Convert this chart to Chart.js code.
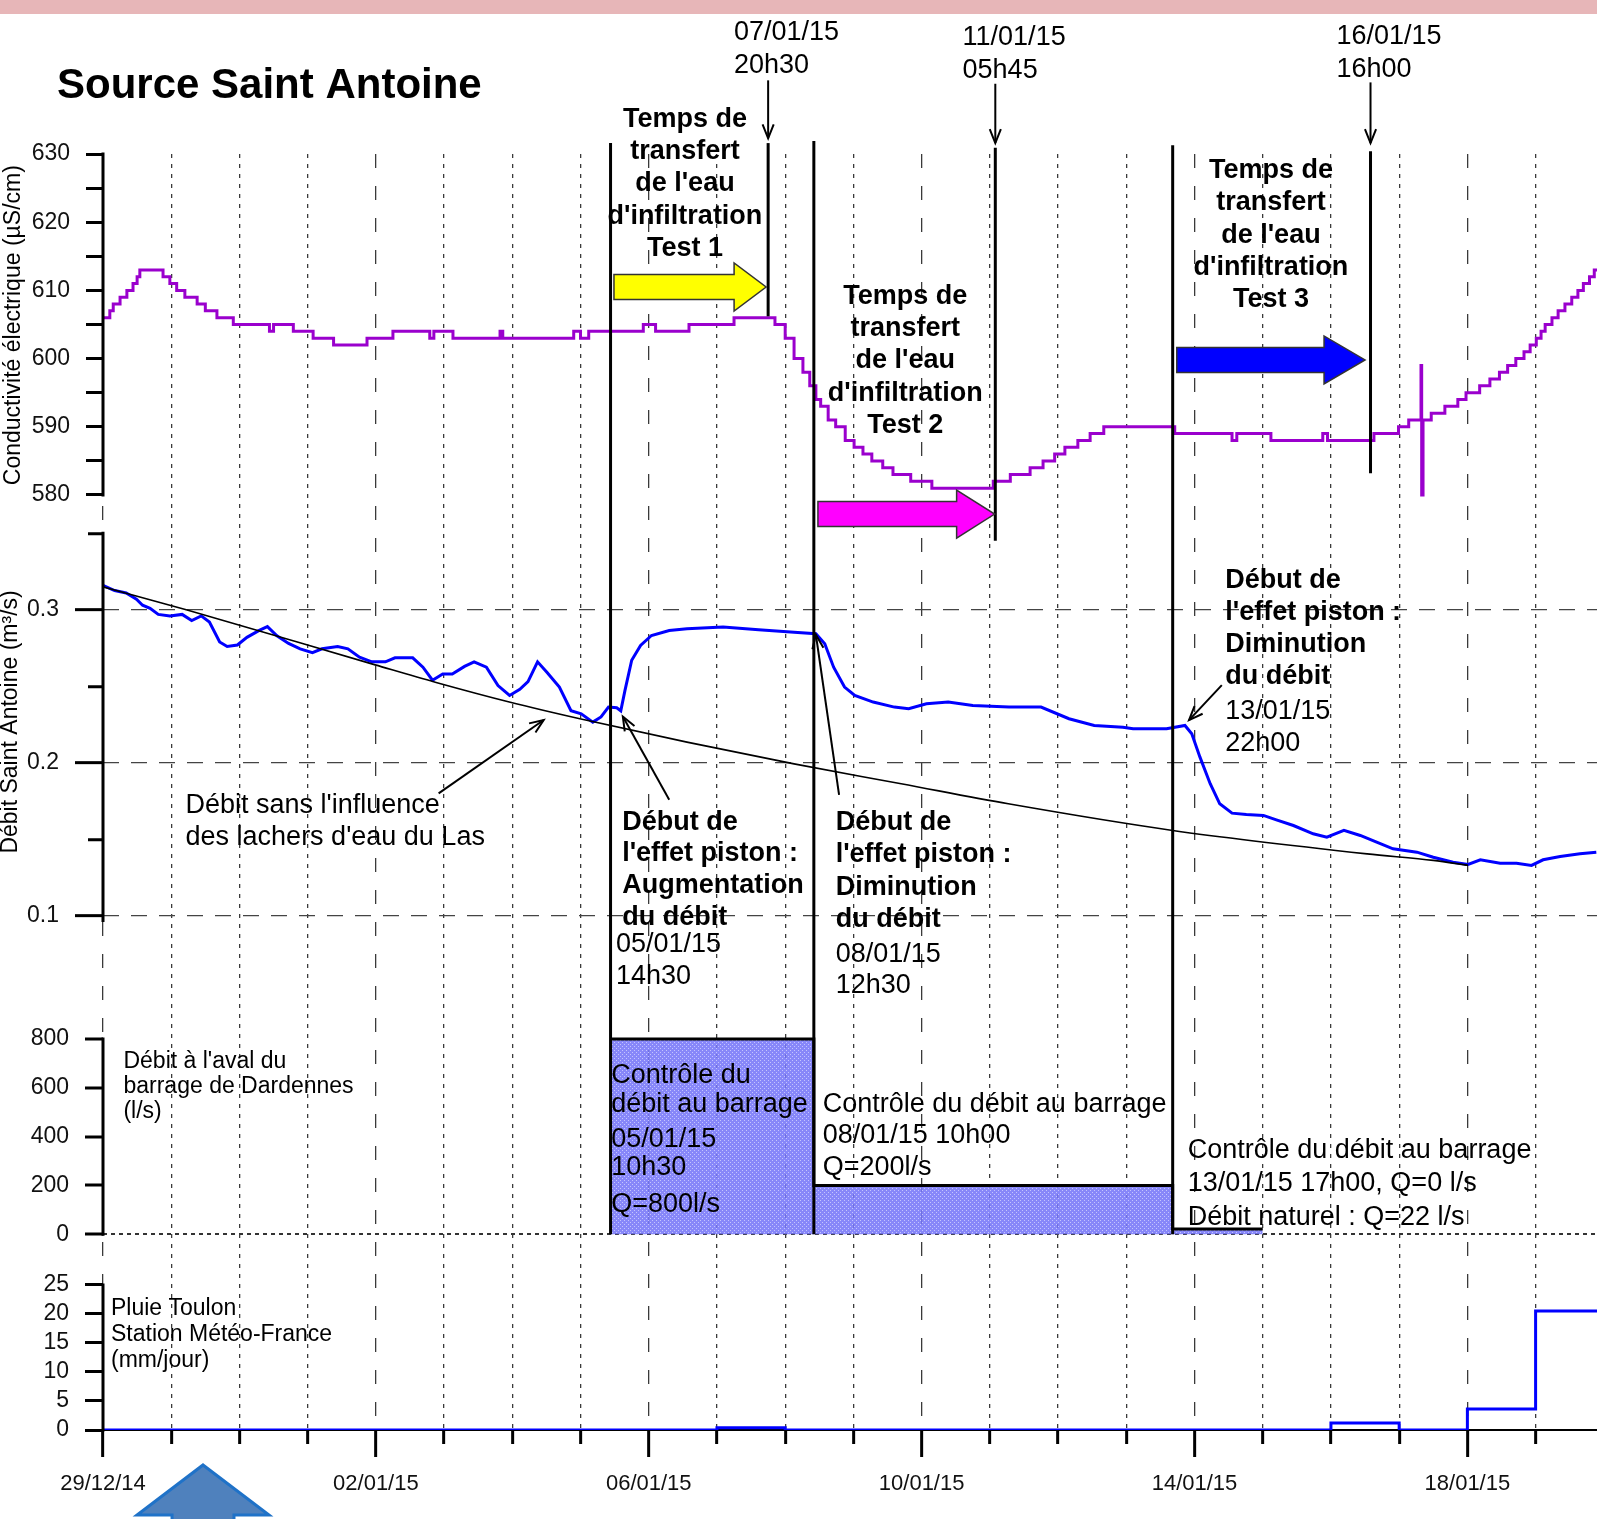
<!DOCTYPE html>
<html>
<head>
<meta charset="utf-8">
<script src="https://cdn.jsdelivr.net/npm/chart.js@4.4.0/dist/chart.umd.min.js"></script>
<style>
  html, body { margin: 0; padding: 0; background: #fff; overflow: hidden; }
  canvas { display: block; }
</style>
</head>
<body>
<canvas id="chartSource" width="1597" height="1519"></canvas>
<script>
// x = days since 29/12/14 00h00
const dateLabels = ["29/12/14", "02/01/15", "06/01/15", "10/01/15", "14/01/15", "18/01/15"];
const dayTicks = [0, 1, 2, 3, 4, 5, 6, 7, 8, 9, 10, 11, 12, 13, 14, 15, 16, 17, 18, 19, 20, 21];

// conductivity (µS/cm), step readings
const condDays = [0.0, 0.10, 0.15, 0.25, 0.35, 0.44, 0.50, 0.54, 0.88, 0.98, 1.08, 1.20, 1.38, 1.50, 1.67, 1.91,
  2.44, 2.50, 2.79, 3.08, 3.38, 3.87, 4.25, 4.79, 4.85, 5.13, 5.82, 5.86, 6.90, 7.00, 7.12, 7.92, 8.10, 8.59, 9.25, 9.85, 10.00, 10.13, 10.26, 10.36, 10.45, 10.52,
  10.63, 10.74, 10.88, 11.01, 11.14, 11.27, 11.43, 11.58, 11.84, 12.15, 13.05, 13.30, 13.59, 13.78, 13.95, 14.10,
  14.29, 14.47, 14.67, 15.71, 16.55, 16.62, 17.12, 17.88, 17.95, 18.63, 18.99, 19.14, 19.32, 19.33, 19.35, 19.47, 19.67, 19.86, 19.98, 20.18,
  20.33, 20.47, 20.59, 20.71, 20.83, 20.92, 21.01, 21.08, 21.14, 21.24, 21.33, 21.43, 21.53, 21.62, 21.70, 21.79,
  21.86, 21.9];
const condValues = [606, 607, 608, 609, 610, 611, 612, 613, 612, 611, 610, 609, 608, 607, 606, 605,
  604, 605, 604, 603, 602, 603, 604, 603, 604, 603, 604, 603, 604, 603, 604, 605, 604, 605, 606, 605, 603, 600, 598, 596, 594, 593,
  591, 590, 588, 587, 586, 585, 584, 583, 582, 581, 582, 583, 584, 585, 586, 587,
  588, 589, 590, 589, 588, 589, 588, 589, 588, 589, 590, 591, 599, 580, 591, 592, 593, 594, 595, 596,
  597, 598, 599, 600, 601, 602, 603, 604, 605, 606, 607, 608, 609, 610, 611, 612,
  613, 613];

// discharge Saint Antoine (m3/s)
const debitDays = [0.0, 0.17, 0.34, 0.49, 0.58, 0.69, 0.81, 0.98, 1.16, 1.30, 1.44, 1.56, 1.71, 1.82, 1.97, 2.11, 2.29, 2.41, 2.55, 2.72,
  2.89, 3.07, 3.21, 3.44, 3.59, 3.76, 3.94, 4.14, 4.28, 4.54, 4.69, 4.83, 4.98, 5.12, 5.30, 5.44, 5.62, 5.79, 5.96, 6.11,
  6.23, 6.37, 6.51, 6.69, 6.86, 7.01, 7.18, 7.30, 7.41, 7.53, 7.59, 7.65, 7.75, 7.88, 8.04, 8.30, 8.56, 9.09, 9.61, 10.13,
  10.45, 10.58, 10.71, 10.87, 11.02, 11.29, 11.60, 11.81, 12.07, 12.39, 12.75, 13.28, 13.75, 14.16, 14.53, 14.95, 15.10, 15.59, 15.86, 15.96,
  16.08, 16.23, 16.37, 16.55, 16.76, 17.01, 17.20, 17.45, 17.74, 17.94, 18.19, 18.43, 18.67, 18.91, 19.26, 19.50, 19.79, 20.01, 20.19, 20.48,
  20.72, 20.94, 21.11, 21.36, 21.65, 21.89];
const debitValues = [0.316, 0.3126, 0.311, 0.307, 0.303, 0.301, 0.297, 0.296, 0.297, 0.293, 0.296, 0.292, 0.279, 0.276, 0.277, 0.282, 0.2865, 0.289, 0.283, 0.278,
  0.2745, 0.272, 0.2745, 0.276, 0.2745, 0.269, 0.266, 0.266, 0.2686, 0.2686, 0.2625, 0.254, 0.258, 0.258, 0.263, 0.266, 0.2625, 0.2505, 0.244, 0.248,
  0.253, 0.266, 0.259, 0.2495, 0.234, 0.232, 0.2266, 0.23, 0.2364, 0.236, 0.234, 0.247, 0.267, 0.2767, 0.2832, 0.2865, 0.2876, 0.2887, 0.287, 0.2854,
  0.2843, 0.2778, 0.2625, 0.2495, 0.244, 0.2397, 0.2364, 0.2353, 0.2386, 0.2397, 0.2375, 0.2364, 0.2364, 0.2288, 0.2244, 0.2233, 0.2222, 0.2222, 0.2244, 0.219,
  0.2037, 0.1863, 0.1732, 0.1671, 0.1662, 0.1656, 0.1627, 0.159, 0.1536, 0.1514, 0.1558, 0.1525, 0.1482, 0.1438, 0.1416, 0.1383, 0.135, 0.1336, 0.1366, 0.1344,
  0.1344, 0.1329, 0.1366, 0.1388, 0.1405, 0.1416];

// discharge without the Las releases
const baseDays = [0, 1.22, 3.99, 4.87, 5.97, 6.99, 8.56, 10.13, 11.70, 13.27, 15.68, 18.53, 19.50, 20.01];
const baseValues = [0.315, 0.300, 0.264, 0.2527, 0.2396, 0.2288, 0.2135, 0.1993, 0.1863, 0.1732, 0.1558, 0.1405, 0.1362, 0.133];

// Dardennes dam release (l/s)
const barrageDays = [7.44, 10.42, 15.68, 17.0];
const barrageValues = [800, 200, 22, 22];

// rain Toulon (mm/day)
const rainDays = [0, 1, 2, 3, 4, 5, 6, 7, 8, 9, 10, 11, 12, 13, 14, 15, 16, 17, 18, 19, 20, 21, 21.9];
const rainValues = [0, 0, 0, 0, 0, 0, 0, 0, 0, 0.4, 0, 0, 0, 0, 0, 0, 0, 0, 1.2, 0, 3.6, 20.5, 20.5];

const condTicks = [580, 585, 590, 595, 600, 605, 610, 615, 620, 625, 630];
const debitTicks = [0.1, 0.15, 0.2, 0.25, 0.3, 0.35];
const barrageTicks = [0, 200, 400, 600, 800];
const rainTicks = [0, 5, 10, 15, 20, 25];

const FONT = "'Liberation Sans', Arial, sans-serif";
Chart.defaults.font.family = FONT;

const pts = (xs, ys) => xs.map((d, i) => ({ x: d, y: ys[i] }));
const isTenth = v => Math.abs(v * 10 - Math.round(v * 10)) < 1e-6;

function dotPattern() {
  const c = document.createElement("canvas");
  c.width = 4; c.height = 4;
  const g = c.getContext("2d");
  g.fillStyle = "rgba(118,118,248,0.88)";
  g.fillRect(0, 0, 4, 4);
  g.fillStyle = "rgba(200,200,255,0.95)";
  g.fillRect(0, 0, 1, 1);
  g.fillRect(2, 2, 1, 1);
  return g.createPattern(c, "repeat");
}

function textLines(ctx, arr, x, y, step, font, align) {
  ctx.font = font;
  ctx.textAlign = align || "left";
  ctx.textBaseline = "alphabetic";
  arr.forEach((s, i) => ctx.fillText(s, x, y + i * step));
}

function pointer(ctx, x0, y0, x1, y1) {
  ctx.strokeStyle = "#000";
  ctx.lineWidth = 2;
  ctx.beginPath(); ctx.moveTo(x0, y0); ctx.lineTo(x1, y1); ctx.stroke();
  const a = Math.atan2(y1 - y0, x1 - x0), L = 15, w = 0.38;
  ctx.beginPath();
  ctx.moveTo(x1 - L * Math.cos(a - w), y1 - L * Math.sin(a - w));
  ctx.lineTo(x1, y1);
  ctx.lineTo(x1 - L * Math.cos(a + w), y1 - L * Math.sin(a + w));
  ctx.stroke();
}

function blockArrow(ctx, x0, x1, yc, headLen, fill) {
  const bh = 12.5, hh = 24;
  ctx.beginPath();
  ctx.moveTo(x0, yc - bh);
  ctx.lineTo(x1 - headLen, yc - bh);
  ctx.lineTo(x1 - headLen, yc - hh);
  ctx.lineTo(x1, yc);
  ctx.lineTo(x1 - headLen, yc + hh);
  ctx.lineTo(x1 - headLen, yc + bh);
  ctx.lineTo(x0, yc + bh);
  ctx.closePath();
  ctx.fillStyle = fill;
  ctx.fill();
  ctx.strokeStyle = "#333";
  ctx.lineWidth = 1.5;
  ctx.stroke();
}

const annotations = {
  id: "annotations",
  beforeDraw(chart) {
    const ctx = chart.ctx;
    ctx.save();
    ctx.fillStyle = "#fff";
    ctx.fillRect(0, 0, chart.width, chart.height);
    ctx.fillStyle = "#e7b6b8";
    ctx.fillRect(0, 0, chart.width, 14);
    ctx.restore();
  },
  afterDraw(chart) {
    const ctx = chart.ctx;
    const X = d => chart.scales.x.getPixelForValue(d);
    const Y = (id, v) => chart.scales[id].getPixelForValue(v);
    const left = chart.chartArea.left;
    ctx.save();

    // y axis lines
    ctx.strokeStyle = "#000";
    ctx.lineWidth = 3;
    [["yC", 630, 580], ["yD", 0.35, 0.097], ["yB", 800, 0], ["yR", 25, 0]].forEach(([id, a, b]) => {
      ctx.beginPath(); ctx.moveTo(left, Y(id, a) - 1.5); ctx.lineTo(left, Y(id, b) + 1.5); ctx.stroke();
    });

    // title
    ctx.fillStyle = "#000";
    textLines(ctx, ["Source Saint Antoine"], 57, 98, 0, "bold 42px " + FONT);

    // rotated axis titles
    ctx.font = "23px " + FONT;
    ctx.textAlign = "center";
    [["Conductivité électrique (µS/cm)", 20, Y("yC", 604.9)], ["Débit Saint Antoine (m³/s)", 17, Y("yD", 0.2267)]].forEach(([s, bx, cy]) => {
      ctx.save(); ctx.translate(bx, cy); ctx.rotate(-Math.PI / 2); ctx.fillText(s, 0, 0); ctx.restore();
    });

    // black vertical markers
    ctx.strokeStyle = "#000";
    ctx.lineWidth = 3;
    [[7.44, Y("yC", 631.6), Y("yB", 0)], [10.42, Y("yC", 631.9), Y("yB", 0)], [15.68, Y("yC", 631.3), Y("yB", 0)],
     [9.75, Y("yC", 631.6), Y("yC", 606.2)], [13.08, Y("yC", 630.9), Y("yC", 573.3)], [18.58, Y("yC", 630.4), Y("yC", 583.2)]]
      .forEach(([d, y0, y1]) => { ctx.beginPath(); ctx.moveTo(X(d), y0); ctx.lineTo(X(d), y1); ctx.stroke(); });

    pointer(ctx, X(9.75), Y("yC", 640.8), X(9.75), Y("yC", 632.3));
    pointer(ctx, X(13.08), Y("yC", 640.3), X(13.08), Y("yC", 631.6));
    pointer(ctx, X(18.58), Y("yC", 640.5), X(18.58), Y("yC", 631.6));

    ctx.fillStyle = "#000";
    const reg27 = "27px " + FONT, bold27 = "bold 27px " + FONT;
    textLines(ctx, ["07/01/15", "20h30"], X(9.25), Y("yC", 646.7), 33, reg27);
    textLines(ctx, ["11/01/15", "05h45"], X(12.6), Y("yC", 646.0), 33, reg27);
    textLines(ctx, ["16/01/15", "16h00"], X(18.08), Y("yC", 646.2), 33, reg27);

    // block arrows
    blockArrow(ctx, X(7.49), X(9.72), Y("yC", 610.5), 32, "#ffff00");
    blockArrow(ctx, X(10.48), X(13.07), Y("yC", 577.2), 38, "#ff00ff");
    blockArrow(ctx, X(15.74), X(18.5), Y("yC", 599.8), 41, "#0000ff");

    ctx.fillStyle = "#000";
    const transfert = n => ["Temps de", "transfert", "de l'eau", "d'infiltration", "Test " + n];
    textLines(ctx, transfert(1), X(8.53), Y("yC", 634.0), 32.3, bold27, "center");
    textLines(ctx, transfert(2), X(11.76), Y("yC", 608.06), 32.3, bold27, "center");
    textLines(ctx, transfert(3), X(17.12), Y("yC", 626.48), 32.3, bold27, "center");

    // discharge panel notes
    pointer(ctx, X(4.92), Y("yD", 0.18), X(6.46), Y("yD", 0.228));
    pointer(ctx, X(8.30), Y("yD", 0.1758), X(7.62), Y("yD", 0.2302));
    pointer(ctx, X(10.79), Y("yD", 0.1791), X(10.45), Y("yD", 0.2837));
    pointer(ctx, X(16.40), Y("yD", 0.2508), X(15.92), Y("yD", 0.2279));

    ctx.fillStyle = "#000";
    textLines(ctx, ["Débit sans l'influence", "des lachers d'eau du Las"], X(1.21), Y("yD", 0.1672), 32, reg27);
    textLines(ctx, ["Début de", "l'effet piston :", "Augmentation", "du débit"], X(7.61), Y("yD", 0.1564), 31.9, bold27);
    textLines(ctx, ["05/01/15", "14h30"], X(7.52), Y("yD", 0.0765), 32.3, reg27);
    textLines(ctx, ["Début de", "l'effet piston :", "Diminution", "du débit"], X(10.74), Y("yD", 0.1559), 32.2, bold27);
    textLines(ctx, ["08/01/15", "12h30"], X(10.74), Y("yD", 0.07), 31.6, reg27);
    textLines(ctx, ["Début de", "l'effet piston :", "Diminution", "du débit"], X(16.45), Y("yD", 0.314), 31.9, bold27);
    textLines(ctx, ["13/01/15", "22h00"], X(16.45), Y("yD", 0.2284), 31.4, reg27);

    // dam panel notes
    textLines(ctx, ["Débit à l'aval du", "barrage de Dardennes", "(l/s)"], X(0.30), Y("yB", 681.2), 25, "23px " + FONT);
    textLines(ctx, ["Contrôle du"], X(7.45), Y("yB", 619.8), 0, reg27);
    textLines(ctx, ["débit au barrage", "05/01/15"], X(7.45), Y("yB", 502.2), 35, reg27);
    textLines(ctx, ["10h30", "Q=800l/s"], X(7.45), Y("yB", 242.9), 36.7, reg27);
    textLines(ctx, ["Contrôle du débit au barrage", "08/01/15 10h00", "Q=200l/s"], X(10.55), Y("yB", 502.2), 31.7, reg27);
    textLines(ctx, ["Contrôle du débit au barrage", "13/01/15 17h00, Q=0 l/s", "Débit naturel : Q=22 l/s"], X(15.9), Y("yB", 312.6), 33.5, reg27);

    // rain panel notes
    textLines(ctx, ["Pluie Toulon", "Station Météo-France", "(mm/jour)"], X(0.117), Y("yR", 19.83), 25.8, "23px " + FONT);

    // big arrow under the axis
    const tx = X(1.466), ty = Y("yR", -6.03), by = Y("yR", -14.66), bot = Y("yR", -17.5);
    const hw = X(1.466 + 0.967) - tx, sw = X(1.466 + 0.454) - tx;
    ctx.beginPath();
    ctx.moveTo(tx, ty);
    ctx.lineTo(tx + hw, by); ctx.lineTo(tx + sw, by); ctx.lineTo(tx + sw, bot);
    ctx.lineTo(tx - sw, bot); ctx.lineTo(tx - sw, by); ctx.lineTo(tx - hw, by);
    ctx.closePath();
    ctx.fillStyle = "#4f81bd";
    ctx.fill();
    ctx.strokeStyle = "#1f72c8";
    ctx.lineWidth = 3;
    ctx.stroke();

    ctx.restore();
  }
};

const leftAxis = (weight, stackWeight, min, max, ticks, tickLength, extra) => Object.assign({
  type: "linear", position: "left", stack: "panels", stackWeight, weight, min, max,
  afterBuildTicks: s => { s.ticks = ticks.map(v => ({ value: v })); },
  afterFit: s => { s.width = 103; },
  border: { display: false },
  grid: { drawOnChartArea: false, tickLength, tickWidth: 3, tickColor: "#000" },
  ticks: { padding: 16, color: "#111", autoSkip: false, font: { size: 23 } }
}, extra);

const chartSource = new Chart(document.getElementById("chartSource"), {
  type: "line",
  data: {
    datasets: [
      { label: "Pluie", data: pts(rainDays, rainValues), yAxisID: "yR", stepped: "before",
        borderColor: "#0000ff", borderWidth: 3, pointRadius: 0, fill: false },
      { label: "Débit barrage", data: pts(barrageDays, barrageValues), yAxisID: "yB", stepped: "before",
        borderColor: "#000", borderWidth: 3, pointRadius: 0, fill: "origin", backgroundColor: dotPattern() },
      { label: "Débit naturel", data: pts(baseDays, baseValues), yAxisID: "yD",
        cubicInterpolationMode: "monotone", borderColor: "#000", borderWidth: 1.6, pointRadius: 0, fill: false },
      { label: "Débit", data: pts(debitDays, debitValues), yAxisID: "yD",
        borderColor: "#0000ff", borderWidth: 3, pointRadius: 0, fill: false },
      { label: "Conductivité", data: pts(condDays, condValues), yAxisID: "yC", stepped: "before",
        borderColor: "#9a00cd", borderWidth: 3, pointRadius: 0, fill: false }
    ]
  },
  options: {
    responsive: false,
    animation: false,
    devicePixelRatio: 1,
    events: [],
    layout: { padding: { top: 154, left: 0, right: 0, bottom: 0 } },
    plugins: { legend: { display: false }, tooltip: { enabled: false }, title: { display: false } },
    scales: {
      x: {
        type: "linear", position: "bottom", min: 0, max: 21.9,
        afterBuildTicks: s => { s.ticks = dayTicks.map(v => ({ value: v })); },
        afterFit: s => { s.height = 89; },
        border: { display: true, color: "#000", width: 2, dash: [4, 6] },
        grid: {
          color: c => (c.tick && c.tick.value % 4 === 0) ? "rgba(0,0,0,0)" : "#3a3a3a",
          lineWidth: 1.3, tickLength: 27, tickWidth: 3, tickColor: "#000",
          tickBorderDash: c => (c.tick && c.tick.value % 4 === 0) ? [] : [13, 200]
        },
        ticks: {
          padding: 14, color: "#111", autoSkip: false, maxRotation: 0, font: { size: 22 },
          callback: v => v % 4 === 0 ? dateLabels[v / 4] : ""
        }
      },
      x2: {
        type: "linear", position: "top", min: 0, max: 21.9,
        afterBuildTicks: s => { s.ticks = dayTicks.filter(v => v % 4 === 0).map(v => ({ value: v })); },
        afterFit: s => { s.height = 0; },
        border: { display: false, dash: [14, 18] },
        grid: { color: "#3a3a3a", lineWidth: 1.3, drawTicks: false },
        ticks: { display: false }
      },
      yC: leftAxis(4, 360.15, 577.19, 630, condTicks, 17, {
        ticks: { padding: 16, color: "#111", autoSkip: false, font: { size: 23 }, callback: v => v % 10 === 0 ? String(v) : "" }
      }),
      yD: leftAxis(3, 462.5, 0.060226, 0.362516, debitTicks, 28, {
        border: { display: false, dash: [16, 12] },
        grid: {
          drawOnChartArea: true, lineWidth: 1.3, tickLength: 28, tickWidth: 3, tickColor: "#000",
          color: c => (c.tick && isTenth(c.tick.value)) ? "#444" : "rgba(0,0,0,0)",
          tickBorderDash: c => (c.tick && isTenth(c.tick.value)) ? [] : [0, 13, 15, 100]
        },
        ticks: { padding: 16, color: "#111", autoSkip: false, font: { size: 23 }, callback: v => isTenth(v) ? v.toFixed(1) : "" }
      }),
      yB: leftAxis(2, 283, -103.8, 1055.4, barrageTicks, 18, {
        border: { display: false, dash: [4, 4] },
        grid: {
          drawOnChartArea: true, lineWidth: 2, tickLength: 18, tickWidth: 3, tickColor: "#000",
          color: c => (c.tick && c.tick.value === 0) ? "#333" : "rgba(0,0,0,0)"
        }
      }),
      yR: leftAxis(1, 170.35, 0, 29.37, rainTicks, 18, {})
    }
  },
  plugins: [annotations]
});
</script>
</body>
</html>
